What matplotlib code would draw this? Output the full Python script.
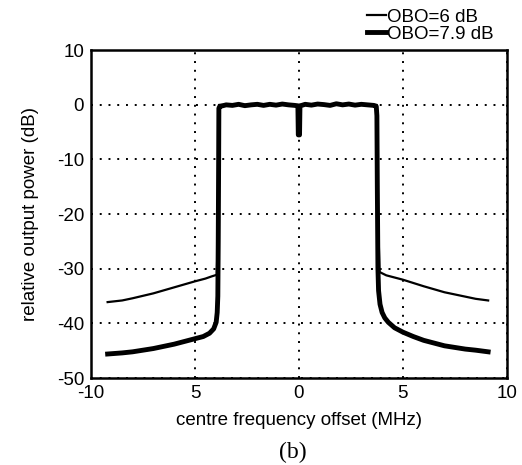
import matplotlib
matplotlib.use("Agg")
import matplotlib.pyplot as plt

plt.rcParams['font.family'] = ['Liberation Sans', 'DejaVu Sans']
plt.rcParams['axes.unicode_minus'] = False

# OBO = 7.9 dB (thick)
x_thick = [-9.2, -8.5, -8.0, -7.0, -6.0, -5.0, -4.6, -4.3, -4.1, -3.98, -3.93, -3.9, -3.88, -3.86, -3.85,
           -3.8, -3.5, -3.2, -2.9, -2.6, -2.3, -2.0, -1.7, -1.4, -1.1, -0.8, -0.5, -0.2, -0.05, -0.03, 0.0, 0.03, 0.05,
           0.3, 0.6, 0.9, 1.2, 1.5, 1.8, 2.1, 2.4, 2.7, 3.0, 3.3, 3.6, 3.72,
           3.75, 3.77, 3.8, 3.83, 3.9, 4.0, 4.13, 4.3, 4.6, 5.0, 5.5, 6.0, 7.0, 8.0, 8.5, 9.1]
y_thick = [-45.6, -45.4, -45.2, -44.6, -43.8, -42.8, -42.4, -41.8, -41.0, -39.8, -38.0, -35.0, -25.0, -10.0, -0.6,
           -0.3, 0.0, -0.1, 0.1, -0.15, 0.0, 0.1, -0.1, 0.1, -0.05, 0.15, 0.0, -0.1, -0.2, -5.5, -5.5, -5.5, -0.2,
           0.1, -0.05, 0.15, 0.05, -0.1, 0.2, 0.0, 0.15, -0.05, 0.1, 0.0, -0.1, -0.3,
           -2.0, -15.0, -30.0, -34.0, -36.5, -38.0, -39.0, -39.8, -40.8, -41.6, -42.4, -43.1, -44.1, -44.7, -44.9, -45.2]

# OBO = 6 dB (thin)
x_thin = [-9.2, -8.5, -8.0, -7.0, -6.0, -5.0, -4.5, -4.2, -3.95, -3.88, -3.85, 3.75, 3.8, 3.88,
          4.2, 4.6, 5.0, 6.0, 7.0, 8.0, 8.5, 9.1]
y_thin = [-36.1, -35.8, -35.4, -34.5, -33.4, -32.3, -31.8, -31.4, -31.1, -20.0, 0.0, 0.0, -20.0, -30.6,
          -31.2, -31.6, -32.0, -33.2, -34.3, -35.1, -35.5, -35.8]

x_ticks = [-10, -5, 0, 5, 10]
x_ticklabels = ['-10', '5', '0', '5', '10']
y_ticks = [10, 0, -10, -20, -30, -40, -50]

fig = plt.figure(figsize=(5.22, 4.65), dpi=100)
ax = fig.add_axes([0.1743, 0.187, 0.7967, 0.705])

l1, = ax.plot(x_thin, y_thin, color='black', lw=1.6, label='OBO=6 dB')
l2, = ax.plot(x_thick, y_thick, color='black', lw=3.5, label='OBO=7.9 dB')

ax.set_xlim(-10, 10)
ax.set_ylim(-50, 10)
ax.set_xticks(x_ticks)
ax.set_xticklabels(x_ticklabels)
ax.set_yticks(y_ticks)
ax.tick_params(length=0, labelsize=13.5, pad=5)
for s in ax.spines.values():
    s.set_linewidth(1.8)
ax.grid(True, color='black', linestyle=(0, (1, 3.5)), linewidth=1.4)

ax.set_xlabel('centre frequency offset (MHz)', fontsize=13.5, labelpad=7)
ax.set_ylabel('relative output power (dB)', fontsize=13.5, labelpad=13)

leg = fig.legend(handles=[l1, l2], loc='upper right', bbox_to_anchor=(0.97, 1.01),
                 frameon=False, fontsize=13.5, handlelength=1.0, handletextpad=0.05,
                 labelspacing=0.0, borderpad=0.2)

fig.text(0.561, 0.026, '(b)', family=['Liberation Serif', 'DejaVu Serif'], fontsize=17,
         ha='center', va='center')

fig.savefig('out.png', dpi=100)
